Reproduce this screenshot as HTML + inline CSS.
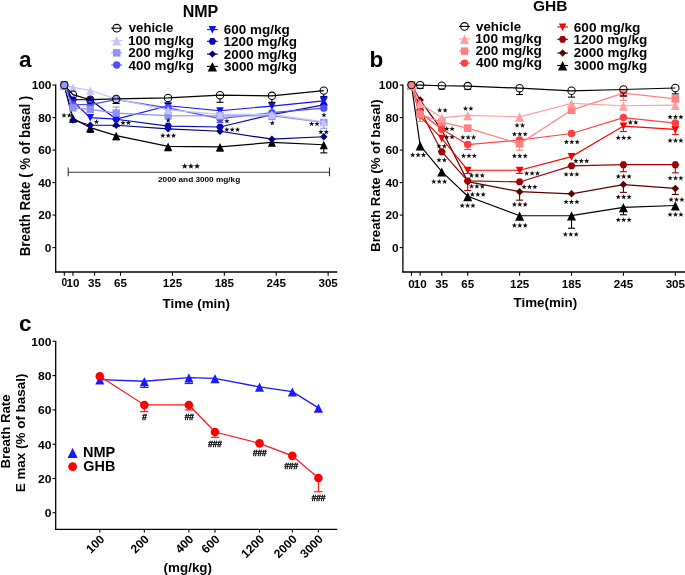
<!DOCTYPE html>
<html><head><meta charset="utf-8"><style>
html,body{margin:0;padding:0;background:#fff;width:685px;height:575px;overflow:hidden}
svg{display:block;will-change:transform}
</style></head><body>
<svg width="685" height="575" viewBox="0 0 685 575" style="font-family:'Liberation Sans',sans-serif;font-weight:bold">
<rect width="685" height="575" fill="#fff"/>
<line x1="55.7" y1="84.4" x2="55.7" y2="272.6" stroke="#000" stroke-width="1.3"/>
<line x1="55.050000000000004" y1="272" x2="337.4" y2="272" stroke="#000" stroke-width="1.3"/>
<line x1="52.5" y1="85.10" x2="55.7" y2="85.10" stroke="#000" stroke-width="1.1"/>
<text x="31.68" y="89.10" font-size="11.2" textLength="19.81" lengthAdjust="spacingAndGlyphs" >100</text>
<line x1="52.5" y1="117.60" x2="55.7" y2="117.60" stroke="#000" stroke-width="1.1"/>
<text x="38.28" y="121.60" font-size="11.2" textLength="13.21" lengthAdjust="spacingAndGlyphs" >80</text>
<line x1="52.5" y1="150.10" x2="55.7" y2="150.10" stroke="#000" stroke-width="1.1"/>
<text x="38.28" y="154.10" font-size="11.2" textLength="13.21" lengthAdjust="spacingAndGlyphs" >60</text>
<line x1="52.5" y1="182.60" x2="55.7" y2="182.60" stroke="#000" stroke-width="1.1"/>
<text x="38.28" y="186.60" font-size="11.2" textLength="13.21" lengthAdjust="spacingAndGlyphs" >40</text>
<line x1="52.5" y1="215.10" x2="55.7" y2="215.10" stroke="#000" stroke-width="1.1"/>
<text x="38.28" y="219.10" font-size="11.2" textLength="13.21" lengthAdjust="spacingAndGlyphs" >20</text>
<line x1="52.5" y1="247.60" x2="55.7" y2="247.60" stroke="#000" stroke-width="1.1"/>
<text x="44.88" y="251.60" font-size="11.2" textLength="6.60" lengthAdjust="spacingAndGlyphs" >0</text>
<line x1="64.30" y1="272" x2="64.30" y2="275.8" stroke="#000" stroke-width="1.1"/>
<text x="64.30" y="286.3" font-size="10.2" text-anchor="middle">0</text>
<line x1="72.95" y1="272" x2="72.95" y2="275.8" stroke="#000" stroke-width="1.1"/>
<text x="72.95" y="287.4" font-size="11.6" text-anchor="middle">10</text>
<line x1="94.57" y1="272" x2="94.57" y2="275.8" stroke="#000" stroke-width="1.1"/>
<text x="94.57" y="287.4" font-size="11.6" text-anchor="middle">35</text>
<line x1="120.53" y1="272" x2="120.53" y2="275.8" stroke="#000" stroke-width="1.1"/>
<text x="120.53" y="287.4" font-size="11.6" text-anchor="middle">65</text>
<line x1="172.43" y1="272" x2="172.43" y2="275.8" stroke="#000" stroke-width="1.1"/>
<text x="172.43" y="287.4" font-size="11.6" text-anchor="middle">125</text>
<line x1="224.32" y1="272" x2="224.32" y2="275.8" stroke="#000" stroke-width="1.1"/>
<text x="224.32" y="287.4" font-size="11.6" text-anchor="middle">185</text>
<line x1="276.23" y1="272" x2="276.23" y2="275.8" stroke="#000" stroke-width="1.1"/>
<text x="276.23" y="287.4" font-size="11.6" text-anchor="middle">245</text>
<line x1="328.12" y1="272" x2="328.12" y2="275.8" stroke="#000" stroke-width="1.1"/>
<text x="328.12" y="287.4" font-size="11.6" text-anchor="middle">305</text>
<text x="162.55" y="307.60" font-size="13.6" textLength="67.31" lengthAdjust="spacingAndGlyphs" >Time (min)</text>
<text transform="translate(29.90,256.29) rotate(-90)" x="0" y="0" font-size="14.0" textLength="160.55" lengthAdjust="spacingAndGlyphs" >Breath Rate ( % of basal )</text>
<text x="19.1" y="67.3" font-size="22.5">a</text>
<text x="200.5" y="16.9" font-size="16" text-anchor="middle">NMP</text>
<line x1="68.2" y1="172.2" x2="329.5" y2="172.2" stroke="#333" stroke-width="1.1"/>
<line x1="68.2" y1="167.5" x2="68.2" y2="176.3" stroke="#333" stroke-width="1.1"/>
<line x1="329.5" y1="167.5" x2="329.5" y2="176.3" stroke="#333" stroke-width="1.1"/>
<g fill="#111"><polygon points="184.70,163.01 185.49,165.13 187.74,165.23 185.98,166.63 186.58,168.80 184.70,167.56 182.82,168.80 183.42,166.63 181.66,165.23 183.91,165.13"/><polygon points="190.90,163.01 191.69,165.13 193.94,165.23 192.18,166.63 192.78,168.80 190.90,167.56 189.02,168.80 189.62,166.63 187.86,165.23 190.11,165.13"/><polygon points="197.10,163.01 197.89,165.13 200.14,165.23 198.38,166.63 198.98,168.80 197.10,167.56 195.22,168.80 195.82,166.63 194.06,165.23 196.31,165.13"/></g>
<text x="158.02" y="182.40" font-size="8.0" textLength="82.13" lengthAdjust="spacingAndGlyphs" >2000 and 3000 mg/kg</text>
<polyline points="64.30,85.10 72.95,118.25 90.25,127.67 116.20,135.64 168.10,146.36 220.00,146.85 271.90,142.46 323.80,144.74" fill="none" stroke="#000000" stroke-width="1.2"/>
<line x1="90.25" y1="127.67" x2="90.25" y2="132.39" stroke="#000000" stroke-width="1.1"/>
<line x1="86.75" y1="132.39" x2="93.75" y2="132.39" stroke="#000000" stroke-width="1.1"/>
<line x1="116.20" y1="135.64" x2="116.20" y2="139.86" stroke="#000000" stroke-width="1.1"/>
<line x1="112.70" y1="139.86" x2="119.70" y2="139.86" stroke="#000000" stroke-width="1.1"/>
<line x1="168.10" y1="146.36" x2="168.10" y2="150.75" stroke="#000000" stroke-width="1.1"/>
<line x1="164.60" y1="150.75" x2="171.60" y2="150.75" stroke="#000000" stroke-width="1.1"/>
<line x1="220.00" y1="146.85" x2="220.00" y2="151.07" stroke="#000000" stroke-width="1.1"/>
<line x1="216.50" y1="151.07" x2="223.50" y2="151.07" stroke="#000000" stroke-width="1.1"/>
<line x1="323.80" y1="144.74" x2="323.80" y2="152.86" stroke="#000000" stroke-width="1.1"/>
<line x1="320.30" y1="152.86" x2="327.30" y2="152.86" stroke="#000000" stroke-width="1.1"/>
<polygon points="64.30,81.19 68.37,89.51 60.23,89.51" fill="#000000"/>
<polygon points="72.95,114.34 77.02,122.66 68.88,122.66" fill="#000000"/>
<polygon points="90.25,123.76 94.32,132.09 86.18,132.09" fill="#000000"/>
<polygon points="116.20,131.72 120.27,140.05 112.13,140.05" fill="#000000"/>
<polygon points="168.10,142.45 172.17,150.77 164.03,150.77" fill="#000000"/>
<polygon points="220.00,142.94 224.07,151.26 215.93,151.26" fill="#000000"/>
<polygon points="271.90,138.55 275.97,146.87 267.83,146.87" fill="#000000"/>
<polygon points="323.80,140.82 327.87,149.15 319.73,149.15" fill="#000000"/>
<polyline points="64.30,85.10 72.95,120.04 90.25,125.24 116.20,125.24 168.10,128.81 220.00,131.25 271.90,139.21 323.80,136.77" fill="none" stroke="#000080" stroke-width="1.2"/>
<line x1="116.20" y1="125.24" x2="116.20" y2="126.54" stroke="#000080" stroke-width="1.1"/>
<line x1="112.70" y1="126.54" x2="119.70" y2="126.54" stroke="#000080" stroke-width="1.1"/>
<polygon points="64.30,81.40 68.00,85.10 64.30,88.80 60.60,85.10" fill="#000080"/>
<polygon points="72.95,116.34 76.65,120.04 72.95,123.74 69.25,120.04" fill="#000080"/>
<polygon points="90.25,121.54 93.95,125.24 90.25,128.94 86.55,125.24" fill="#000080"/>
<polygon points="116.20,121.54 119.90,125.24 116.20,128.94 112.50,125.24" fill="#000080"/>
<polygon points="168.10,125.11 171.80,128.81 168.10,132.51 164.40,128.81" fill="#000080"/>
<polygon points="220.00,127.55 223.70,131.25 220.00,134.95 216.30,131.25" fill="#000080"/>
<polygon points="271.90,135.51 275.60,139.21 271.90,142.91 268.20,139.21" fill="#000080"/>
<polygon points="323.80,133.07 327.50,136.77 323.80,140.47 320.10,136.77" fill="#000080"/>
<polyline points="64.30,85.10 72.95,99.72 90.25,99.72 116.20,119.22 168.10,126.05 220.00,127.02 271.90,114.67 323.80,104.92" fill="none" stroke="#0a0ab4" stroke-width="1.2"/>
<polygon points="60.41,85.10 62.36,81.77 66.24,81.77 68.19,85.10 66.24,88.43 62.36,88.43" fill="#0a0ab4"/>
<polygon points="69.06,99.72 71.01,96.39 74.89,96.39 76.84,99.72 74.89,103.05 71.01,103.05" fill="#0a0ab4"/>
<polygon points="86.36,99.72 88.31,96.39 92.19,96.39 94.14,99.72 92.19,103.05 88.31,103.05" fill="#0a0ab4"/>
<polygon points="112.31,119.22 114.26,115.89 118.14,115.89 120.08,119.22 118.14,122.55 114.26,122.55" fill="#0a0ab4"/>
<polygon points="164.22,126.05 166.16,122.72 170.04,122.72 171.98,126.05 170.04,129.38 166.16,129.38" fill="#0a0ab4"/>
<polygon points="216.12,127.02 218.06,123.69 221.94,123.69 223.88,127.02 221.94,130.35 218.06,130.35" fill="#0a0ab4"/>
<polygon points="268.01,114.67 269.96,111.34 273.84,111.34 275.78,114.67 273.84,118.00 269.96,118.00" fill="#0a0ab4"/>
<polygon points="319.92,104.92 321.86,101.59 325.74,101.59 327.69,104.92 325.74,108.25 321.86,108.25" fill="#0a0ab4"/>
<polyline points="64.30,85.10 72.95,101.35 90.25,117.60 116.20,119.06 168.10,105.74 220.00,110.77 271.90,106.06 323.80,100.86" fill="none" stroke="#1010ff" stroke-width="1.2"/>
<line x1="323.80" y1="100.86" x2="323.80" y2="96.47" stroke="#1010ff" stroke-width="1.1"/>
<line x1="320.30" y1="96.47" x2="327.30" y2="96.47" stroke="#1010ff" stroke-width="1.1"/>
<polygon points="64.30,89.02 68.09,81.62 60.51,81.62" fill="#1010ff"/>
<polygon points="72.95,105.27 76.74,97.87 69.16,97.87" fill="#1010ff"/>
<polygon points="90.25,121.52 94.04,114.12 86.46,114.12" fill="#1010ff"/>
<polygon points="116.20,122.98 119.99,115.58 112.41,115.58" fill="#1010ff"/>
<polygon points="168.10,109.66 171.89,102.26 164.31,102.26" fill="#1010ff"/>
<polygon points="220.00,114.70 223.79,107.30 216.21,107.30" fill="#1010ff"/>
<polygon points="271.90,109.98 275.69,102.58 268.11,102.58" fill="#1010ff"/>
<polygon points="323.80,104.78 327.59,97.38 320.01,97.38" fill="#1010ff"/>
<polyline points="64.30,85.10 72.95,104.60 90.25,104.60 116.20,99.72 168.10,107.85 220.00,118.57 271.90,112.72 323.80,108.17" fill="none" stroke="#5050f5" stroke-width="1.2"/>
<line x1="220.00" y1="118.57" x2="220.00" y2="122.47" stroke="#5050f5" stroke-width="1.1"/>
<line x1="216.50" y1="122.47" x2="223.50" y2="122.47" stroke="#5050f5" stroke-width="1.1"/>
<circle cx="64.30" cy="85.10" r="3.70" fill="#5050f5"/>
<circle cx="72.95" cy="104.60" r="3.70" fill="#5050f5"/>
<circle cx="90.25" cy="104.60" r="3.70" fill="#5050f5"/>
<circle cx="116.20" cy="99.72" r="3.70" fill="#5050f5"/>
<circle cx="168.10" cy="107.85" r="3.70" fill="#5050f5"/>
<circle cx="220.00" cy="118.57" r="3.70" fill="#5050f5"/>
<circle cx="271.90" cy="112.72" r="3.70" fill="#5050f5"/>
<circle cx="323.80" cy="108.17" r="3.70" fill="#5050f5"/>
<polyline points="64.30,85.10 72.95,107.85 90.25,109.47 116.20,113.05 168.10,115.65 220.00,115.97 271.90,115.97 323.80,122.47" fill="none" stroke="#9090f5" stroke-width="1.2"/>
<line x1="323.80" y1="122.47" x2="323.80" y2="128.32" stroke="#9090f5" stroke-width="1.1"/>
<line x1="320.30" y1="128.32" x2="327.30" y2="128.32" stroke="#9090f5" stroke-width="1.1"/>
<line x1="271.90" y1="115.97" x2="271.90" y2="119.55" stroke="#9090f5" stroke-width="1.1"/>
<line x1="268.40" y1="119.55" x2="275.40" y2="119.55" stroke="#9090f5" stroke-width="1.1"/>
<line x1="116.20" y1="113.05" x2="116.20" y2="107.04" stroke="#9090f5" stroke-width="1.1"/>
<line x1="112.70" y1="107.04" x2="119.70" y2="107.04" stroke="#9090f5" stroke-width="1.1"/>
<rect x="60.60" y="81.40" width="7.40" height="7.40" fill="#9090f5"/>
<rect x="69.25" y="104.15" width="7.40" height="7.40" fill="#9090f5"/>
<rect x="86.55" y="105.77" width="7.40" height="7.40" fill="#9090f5"/>
<rect x="112.50" y="109.35" width="7.40" height="7.40" fill="#9090f5"/>
<rect x="164.40" y="111.95" width="7.40" height="7.40" fill="#9090f5"/>
<rect x="216.30" y="112.27" width="7.40" height="7.40" fill="#9090f5"/>
<rect x="268.20" y="112.27" width="7.40" height="7.40" fill="#9090f5"/>
<rect x="320.10" y="118.77" width="7.40" height="7.40" fill="#9090f5"/>
<polyline points="64.30,85.10 72.95,87.38 90.25,90.30 116.20,99.07 168.10,109.96 220.00,114.35 271.90,114.35 323.80,121.82" fill="none" stroke="#c4c4fa" stroke-width="1.2"/>
<polygon points="64.30,81.19 68.37,89.51 60.23,89.51" fill="#c4c4fa"/>
<polygon points="72.95,83.46 77.02,91.79 68.88,91.79" fill="#c4c4fa"/>
<polygon points="90.25,86.39 94.32,94.71 86.18,94.71" fill="#c4c4fa"/>
<polygon points="116.20,95.16 120.27,103.49 112.13,103.49" fill="#c4c4fa"/>
<polygon points="168.10,106.05 172.17,114.37 164.03,114.37" fill="#c4c4fa"/>
<polygon points="220.00,110.44 224.07,118.76 215.93,118.76" fill="#c4c4fa"/>
<polygon points="271.90,110.44 275.97,118.76 267.83,118.76" fill="#c4c4fa"/>
<polygon points="323.80,117.91 327.87,126.24 319.73,126.24" fill="#c4c4fa"/>
<polyline points="64.30,85.10 72.95,94.69 90.25,99.72 116.20,98.91 168.10,97.94 220.00,95.17 271.90,95.82 323.80,90.62" fill="none" stroke="#000000" stroke-width="1.2"/>
<line x1="116.20" y1="102.61" x2="116.20" y2="103.46" stroke="#000000" stroke-width="1.1"/>
<line x1="112.70" y1="103.46" x2="119.70" y2="103.46" stroke="#000000" stroke-width="1.1"/>
<line x1="168.10" y1="101.64" x2="168.10" y2="103.46" stroke="#000000" stroke-width="1.1"/>
<line x1="164.60" y1="103.46" x2="171.60" y2="103.46" stroke="#000000" stroke-width="1.1"/>
<line x1="220.00" y1="98.88" x2="220.00" y2="102.32" stroke="#000000" stroke-width="1.1"/>
<line x1="216.50" y1="102.32" x2="223.50" y2="102.32" stroke="#000000" stroke-width="1.1"/>
<line x1="271.90" y1="99.52" x2="271.90" y2="102.32" stroke="#000000" stroke-width="1.1"/>
<line x1="268.40" y1="102.32" x2="275.40" y2="102.32" stroke="#000000" stroke-width="1.1"/>
<line x1="323.80" y1="94.33" x2="323.80" y2="97.12" stroke="#000000" stroke-width="1.1"/>
<line x1="320.30" y1="97.12" x2="327.30" y2="97.12" stroke="#000000" stroke-width="1.1"/>
<circle cx="72.95" cy="94.69" r="3.7" fill="none" stroke="#000" stroke-width="1.05"/>
<circle cx="90.25" cy="99.72" r="3.7" fill="none" stroke="#000" stroke-width="1.05"/>
<circle cx="116.20" cy="98.91" r="3.7" fill="none" stroke="#000" stroke-width="1.05"/>
<circle cx="168.10" cy="97.94" r="3.7" fill="none" stroke="#000" stroke-width="1.05"/>
<circle cx="220.00" cy="95.17" r="3.7" fill="none" stroke="#000" stroke-width="1.05"/>
<circle cx="271.90" cy="95.82" r="3.7" fill="none" stroke="#000" stroke-width="1.05"/>
<circle cx="323.80" cy="90.62" r="3.7" fill="none" stroke="#000" stroke-width="1.05"/>
<circle cx="64.30" cy="85.10" r="3.7" fill="#9a9af5" stroke="#000" stroke-width="1.05"/>
<g fill="#111"><polygon points="64.00,112.66 64.68,114.48 66.62,114.56 65.10,115.77 65.62,117.64 64.00,116.57 62.38,117.64 62.90,115.77 61.38,114.56 63.32,114.48"/><polygon points="69.40,112.66 70.08,114.48 72.02,114.56 70.50,115.77 71.02,117.64 69.40,116.57 67.78,117.64 68.30,115.77 66.78,114.56 68.72,114.48"/></g>
<g fill="#111"><polygon points="96.50,119.06 97.18,120.88 99.12,120.96 97.60,122.17 98.12,124.04 96.50,122.97 94.88,124.04 95.40,122.17 93.88,120.96 95.82,120.88"/></g>
<g fill="#111"><polygon points="123.00,120.06 123.68,121.88 125.62,121.96 124.10,123.17 124.62,125.04 123.00,123.97 121.38,125.04 121.90,123.17 120.38,121.96 122.32,121.88"/><polygon points="128.40,120.06 129.08,121.88 131.02,121.96 129.50,123.17 130.02,125.04 128.40,123.97 126.78,125.04 127.30,123.17 125.78,121.96 127.72,121.88"/></g>
<g fill="#111"><polygon points="168.20,117.66 168.88,119.48 170.82,119.56 169.30,120.77 169.82,122.64 168.20,121.57 166.58,122.64 167.10,120.77 165.58,119.56 167.52,119.48"/></g>
<g fill="#111"><polygon points="162.80,132.96 163.48,134.78 165.42,134.86 163.90,136.07 164.42,137.94 162.80,136.87 161.18,137.94 161.70,136.07 160.18,134.86 162.12,134.78"/><polygon points="168.20,132.96 168.88,134.78 170.82,134.86 169.30,136.07 169.82,137.94 168.20,136.87 166.58,137.94 167.10,136.07 165.58,134.86 167.52,134.78"/><polygon points="173.60,132.96 174.28,134.78 176.22,134.86 174.70,136.07 175.22,137.94 173.60,136.87 171.98,137.94 172.50,136.07 170.98,134.86 172.92,134.78"/></g>
<g fill="#111"><polygon points="226.90,118.36 227.58,120.18 229.52,120.26 228.00,121.47 228.52,123.34 226.90,122.27 225.28,123.34 225.80,121.47 224.28,120.26 226.22,120.18"/></g>
<g fill="#111"><polygon points="226.80,126.96 227.48,128.78 229.42,128.86 227.90,130.07 228.42,131.94 226.80,130.87 225.18,131.94 225.70,130.07 224.18,128.86 226.12,128.78"/><polygon points="232.20,126.96 232.88,128.78 234.82,128.86 233.30,130.07 233.82,131.94 232.20,130.87 230.58,131.94 231.10,130.07 229.58,128.86 231.52,128.78"/><polygon points="237.60,126.96 238.28,128.78 240.22,128.86 238.70,130.07 239.22,131.94 237.60,130.87 235.98,131.94 236.50,130.07 234.98,128.86 236.92,128.78"/></g>
<g fill="#111"><polygon points="272.30,120.36 272.98,122.18 274.92,122.26 273.40,123.47 273.92,125.34 272.30,124.27 270.68,125.34 271.20,123.47 269.68,122.26 271.62,122.18"/></g>
<g fill="#111"><polygon points="324.00,112.36 324.68,114.18 326.62,114.26 325.10,115.47 325.62,117.34 324.00,116.27 322.38,117.34 322.90,115.47 321.38,114.26 323.32,114.18"/></g>
<g fill="#111"><polygon points="311.60,121.16 312.28,122.98 314.22,123.06 312.70,124.27 313.22,126.14 311.60,125.07 309.98,126.14 310.50,124.27 308.98,123.06 310.92,122.98"/><polygon points="317.00,121.16 317.68,122.98 319.62,123.06 318.10,124.27 318.62,126.14 317.00,125.07 315.38,126.14 315.90,124.27 314.38,123.06 316.32,122.98"/></g>
<g fill="#111"><polygon points="320.90,129.26 321.58,131.08 323.52,131.16 322.00,132.37 322.52,134.24 320.90,133.17 319.28,134.24 319.80,132.37 318.28,131.16 320.22,131.08"/><polygon points="326.30,129.26 326.98,131.08 328.92,131.16 327.40,132.37 327.92,134.24 326.30,133.17 324.68,134.24 325.20,132.37 323.68,131.16 325.62,131.08"/></g>
<line x1="111.30" y1="28.20" x2="122.10" y2="28.20" stroke="#000" stroke-width="1.1"/>
<circle cx="116.70" cy="28.20" r="3.8" fill="none" stroke="#000" stroke-width="1.1"/>
<text x="128.75" y="31.70" font-size="12.6" textLength="44.70" lengthAdjust="spacingAndGlyphs" >vehicle</text>
<line x1="111.30" y1="40.60" x2="122.10" y2="40.60" stroke="#c4c4fa" stroke-width="1.1"/>
<polygon points="116.70,36.16 121.32,45.61 112.08,45.61" fill="#c4c4fa"/>
<text x="127.95" y="44.50" font-size="12.6" textLength="65.95" lengthAdjust="spacingAndGlyphs" >100 mg/kg</text>
<line x1="111.30" y1="52.90" x2="122.10" y2="52.90" stroke="#9090f5" stroke-width="1.1"/>
<rect x="113.00" y="49.20" width="7.40" height="7.40" fill="#9090f5"/>
<text x="128.34" y="57.10" font-size="12.6" textLength="65.56" lengthAdjust="spacingAndGlyphs" >200 mg/kg</text>
<line x1="111.30" y1="65.00" x2="122.10" y2="65.00" stroke="#5050f5" stroke-width="1.1"/>
<circle cx="116.70" cy="65.00" r="3.70" fill="#5050f5"/>
<text x="128.60" y="69.50" font-size="12.6" textLength="65.30" lengthAdjust="spacingAndGlyphs" >400 mg/kg</text>
<line x1="207.00" y1="29.60" x2="217.80" y2="29.60" stroke="#1010ff" stroke-width="1.1"/>
<polygon points="212.40,33.52 216.19,26.12 208.61,26.12" fill="#1010ff"/>
<text x="223.81" y="34.00" font-size="12.6" textLength="65.89" lengthAdjust="spacingAndGlyphs" >600 mg/kg</text>
<line x1="207.00" y1="41.30" x2="217.80" y2="41.30" stroke="#0a0ab4" stroke-width="1.1"/>
<polygon points="208.52,41.30 210.46,37.97 214.34,37.97 216.28,41.30 214.34,44.63 210.46,44.63" fill="#0a0ab4"/>
<text x="223.45" y="45.90" font-size="12.6" textLength="73.55" lengthAdjust="spacingAndGlyphs" >1200 mg/kg</text>
<line x1="207.00" y1="54.10" x2="217.80" y2="54.10" stroke="#000080" stroke-width="1.1"/>
<polygon points="212.40,50.40 216.10,54.10 212.40,57.80 208.70,54.10" fill="#000080"/>
<text x="223.83" y="58.60" font-size="12.6" textLength="73.16" lengthAdjust="spacingAndGlyphs" >2000 mg/kg</text>
<line x1="207.00" y1="66.40" x2="217.80" y2="66.40" stroke="#000" stroke-width="1.1"/>
<polygon points="212.40,61.96 217.02,71.41 207.78,71.41" fill="#000"/>
<text x="223.99" y="70.50" font-size="12.6" textLength="73.00" lengthAdjust="spacingAndGlyphs" >3000 mg/kg</text>
<line x1="402.9" y1="84.4" x2="402.9" y2="272.6" stroke="#000" stroke-width="1.3"/>
<line x1="402.25" y1="272" x2="685" y2="272" stroke="#000" stroke-width="1.3"/>
<line x1="399.7" y1="85.10" x2="402.9" y2="85.10" stroke="#000" stroke-width="1.1"/>
<text x="378.88" y="89.10" font-size="11.2" textLength="19.81" lengthAdjust="spacingAndGlyphs" >100</text>
<line x1="399.7" y1="117.60" x2="402.9" y2="117.60" stroke="#000" stroke-width="1.1"/>
<text x="385.48" y="121.60" font-size="11.2" textLength="13.21" lengthAdjust="spacingAndGlyphs" >80</text>
<line x1="399.7" y1="150.10" x2="402.9" y2="150.10" stroke="#000" stroke-width="1.1"/>
<text x="385.48" y="154.10" font-size="11.2" textLength="13.21" lengthAdjust="spacingAndGlyphs" >60</text>
<line x1="399.7" y1="182.60" x2="402.9" y2="182.60" stroke="#000" stroke-width="1.1"/>
<text x="385.48" y="186.60" font-size="11.2" textLength="13.21" lengthAdjust="spacingAndGlyphs" >40</text>
<line x1="399.7" y1="215.10" x2="402.9" y2="215.10" stroke="#000" stroke-width="1.1"/>
<text x="385.48" y="219.10" font-size="11.2" textLength="13.21" lengthAdjust="spacingAndGlyphs" >20</text>
<line x1="399.7" y1="247.60" x2="402.9" y2="247.60" stroke="#000" stroke-width="1.1"/>
<text x="392.08" y="251.60" font-size="11.2" textLength="6.60" lengthAdjust="spacingAndGlyphs" >0</text>
<line x1="411.50" y1="272" x2="411.50" y2="275.8" stroke="#000" stroke-width="1.1"/>
<text x="411.50" y="287.6" font-size="11.6" text-anchor="middle">0</text>
<line x1="420.15" y1="272" x2="420.15" y2="275.8" stroke="#000" stroke-width="1.1"/>
<text x="420.15" y="287.6" font-size="11.6" text-anchor="middle">10</text>
<line x1="441.77" y1="272" x2="441.77" y2="275.8" stroke="#000" stroke-width="1.1"/>
<text x="441.77" y="287.6" font-size="11.6" text-anchor="middle">35</text>
<line x1="467.73" y1="272" x2="467.73" y2="275.8" stroke="#000" stroke-width="1.1"/>
<text x="467.73" y="287.6" font-size="11.6" text-anchor="middle">65</text>
<line x1="519.62" y1="272" x2="519.62" y2="275.8" stroke="#000" stroke-width="1.1"/>
<text x="519.62" y="287.6" font-size="11.6" text-anchor="middle">125</text>
<line x1="571.52" y1="272" x2="571.52" y2="275.8" stroke="#000" stroke-width="1.1"/>
<text x="571.52" y="287.6" font-size="11.6" text-anchor="middle">185</text>
<line x1="623.42" y1="272" x2="623.42" y2="275.8" stroke="#000" stroke-width="1.1"/>
<text x="623.42" y="287.6" font-size="11.6" text-anchor="middle">245</text>
<line x1="675.33" y1="272" x2="675.33" y2="275.8" stroke="#000" stroke-width="1.1"/>
<text x="675.33" y="287.6" font-size="11.6" text-anchor="middle">305</text>
<text x="513.55" y="307.10" font-size="13.6" textLength="63.61" lengthAdjust="spacingAndGlyphs" >Time(min)</text>
<text transform="translate(379.90,251.89) rotate(-90)" x="0" y="0" font-size="13.6" textLength="152.55" lengthAdjust="spacingAndGlyphs" >Breath Rate (% of basal)</text>
<text x="369.6" y="67.0" font-size="22.5">b</text>
<text x="550.3" y="11.2" font-size="15.5" text-anchor="middle">GHB</text>
<polyline points="411.50,85.10 420.15,145.55 441.77,171.71 467.73,196.25 519.62,215.75 571.52,215.59 623.42,207.30 675.33,205.51" fill="none" stroke="#000000" stroke-width="1.2"/>
<line x1="571.52" y1="215.59" x2="571.52" y2="228.26" stroke="#000000" stroke-width="1.1"/>
<line x1="568.02" y1="228.26" x2="575.02" y2="228.26" stroke="#000000" stroke-width="1.1"/>
<line x1="623.42" y1="207.30" x2="623.42" y2="214.77" stroke="#000000" stroke-width="1.1"/>
<line x1="619.92" y1="214.77" x2="626.92" y2="214.77" stroke="#000000" stroke-width="1.1"/>
<line x1="441.77" y1="171.71" x2="441.77" y2="174.96" stroke="#000000" stroke-width="1.1"/>
<line x1="438.27" y1="174.96" x2="445.27" y2="174.96" stroke="#000000" stroke-width="1.1"/>
<polygon points="411.50,80.76 416.01,89.99 406.99,89.99" fill="#000000"/>
<polygon points="420.15,141.21 424.66,150.44 415.64,150.44" fill="#000000"/>
<polygon points="441.77,167.38 446.28,176.60 437.26,176.60" fill="#000000"/>
<polygon points="467.73,191.91 472.24,201.14 463.22,201.14" fill="#000000"/>
<polygon points="519.62,211.41 524.13,220.64 515.12,220.64" fill="#000000"/>
<polygon points="571.52,211.25 576.03,220.48 567.01,220.48" fill="#000000"/>
<polygon points="623.42,202.96 627.93,212.19 618.91,212.19" fill="#000000"/>
<polygon points="675.33,201.18 679.84,210.40 670.82,210.40" fill="#000000"/>
<polyline points="411.50,85.10 420.15,100.05 441.77,129.79 467.73,181.62 519.62,191.70 571.52,193.81 623.42,184.55 675.33,188.45" fill="none" stroke="#5a0000" stroke-width="1.2"/>
<line x1="519.62" y1="191.70" x2="519.62" y2="200.15" stroke="#5a0000" stroke-width="1.1"/>
<line x1="516.12" y1="200.15" x2="523.12" y2="200.15" stroke="#5a0000" stroke-width="1.1"/>
<line x1="623.42" y1="184.55" x2="623.42" y2="192.35" stroke="#5a0000" stroke-width="1.1"/>
<line x1="619.92" y1="192.35" x2="626.92" y2="192.35" stroke="#5a0000" stroke-width="1.1"/>
<line x1="675.33" y1="188.45" x2="675.33" y2="194.46" stroke="#5a0000" stroke-width="1.1"/>
<line x1="671.83" y1="194.46" x2="678.83" y2="194.46" stroke="#5a0000" stroke-width="1.1"/>
<polygon points="411.50,81.30 415.30,85.10 411.50,88.90 407.70,85.10" fill="#5a0000"/>
<polygon points="420.15,96.25 423.95,100.05 420.15,103.85 416.35,100.05" fill="#5a0000"/>
<polygon points="441.77,125.99 445.57,129.79 441.77,133.59 437.97,129.79" fill="#5a0000"/>
<polygon points="467.73,177.82 471.53,181.62 467.73,185.43 463.93,181.62" fill="#5a0000"/>
<polygon points="519.62,187.90 523.42,191.70 519.62,195.50 515.83,191.70" fill="#5a0000"/>
<polygon points="571.52,190.01 575.32,193.81 571.52,197.61 567.73,193.81" fill="#5a0000"/>
<polygon points="623.42,180.75 627.22,184.55 623.42,188.35 619.62,184.55" fill="#5a0000"/>
<polygon points="675.33,184.65 679.12,188.45 675.33,192.25 671.53,188.45" fill="#5a0000"/>
<polyline points="411.50,85.10 420.15,110.12 441.77,151.72 467.73,180.81 519.62,181.95 571.52,165.86 623.42,164.72 675.33,164.72" fill="none" stroke="#a00000" stroke-width="1.2"/>
<line x1="467.73" y1="180.81" x2="467.73" y2="190.56" stroke="#a00000" stroke-width="1.1"/>
<line x1="464.23" y1="190.56" x2="471.23" y2="190.56" stroke="#a00000" stroke-width="1.1"/>
<line x1="623.42" y1="164.72" x2="623.42" y2="171.71" stroke="#a00000" stroke-width="1.1"/>
<line x1="619.92" y1="171.71" x2="626.92" y2="171.71" stroke="#a00000" stroke-width="1.1"/>
<line x1="675.33" y1="164.72" x2="675.33" y2="172.85" stroke="#a00000" stroke-width="1.1"/>
<line x1="671.83" y1="172.85" x2="678.83" y2="172.85" stroke="#a00000" stroke-width="1.1"/>
<polygon points="407.51,85.10 409.50,81.68 413.50,81.68 415.49,85.10 413.50,88.52 409.50,88.52" fill="#a00000"/>
<polygon points="416.16,110.12 418.15,106.70 422.14,106.70 424.14,110.12 422.14,113.55 418.15,113.55" fill="#a00000"/>
<polygon points="437.78,151.72 439.78,148.31 443.77,148.31 445.76,151.72 443.77,155.14 439.78,155.14" fill="#a00000"/>
<polygon points="463.74,180.81 465.73,177.39 469.72,177.39 471.72,180.81 469.72,184.23 465.73,184.23" fill="#a00000"/>
<polygon points="515.63,181.95 517.63,178.53 521.62,178.53 523.62,181.95 521.62,185.37 517.63,185.37" fill="#a00000"/>
<polygon points="567.53,165.86 569.53,162.44 573.52,162.44 575.51,165.86 573.52,169.28 569.53,169.28" fill="#a00000"/>
<polygon points="619.43,164.72 621.43,161.31 625.42,161.31 627.41,164.72 625.42,168.14 621.43,168.14" fill="#a00000"/>
<polygon points="671.34,164.72 673.33,161.31 677.32,161.31 679.32,164.72 677.32,168.14 673.33,168.14" fill="#a00000"/>
<polyline points="411.50,85.10 420.15,116.79 441.77,138.40 467.73,170.25 519.62,170.25 571.52,156.60 623.42,126.05 675.33,129.46" fill="none" stroke="#ff0000" stroke-width="1.2"/>
<line x1="623.42" y1="126.05" x2="623.42" y2="131.57" stroke="#ff0000" stroke-width="1.1"/>
<line x1="619.92" y1="131.57" x2="626.92" y2="131.57" stroke="#ff0000" stroke-width="1.1"/>
<line x1="675.33" y1="129.46" x2="675.33" y2="134.34" stroke="#ff0000" stroke-width="1.1"/>
<line x1="671.83" y1="134.34" x2="678.83" y2="134.34" stroke="#ff0000" stroke-width="1.1"/>
<line x1="519.62" y1="170.25" x2="519.62" y2="173.50" stroke="#ff0000" stroke-width="1.1"/>
<line x1="516.12" y1="173.50" x2="523.12" y2="173.50" stroke="#ff0000" stroke-width="1.1"/>
<line x1="467.73" y1="170.25" x2="467.73" y2="173.50" stroke="#ff0000" stroke-width="1.1"/>
<line x1="464.23" y1="173.50" x2="471.23" y2="173.50" stroke="#ff0000" stroke-width="1.1"/>
<polygon points="411.50,89.13 415.39,81.53 407.61,81.53" fill="#ff0000"/>
<polygon points="420.15,120.82 424.04,113.22 416.25,113.22" fill="#ff0000"/>
<polygon points="441.77,142.43 445.67,134.83 437.88,134.83" fill="#ff0000"/>
<polygon points="467.73,174.28 471.62,166.68 463.83,166.68" fill="#ff0000"/>
<polygon points="519.62,174.28 523.52,166.68 515.73,166.68" fill="#ff0000"/>
<polygon points="571.52,160.63 575.42,153.03 567.63,153.03" fill="#ff0000"/>
<polygon points="623.42,130.08 627.32,122.48 619.53,122.48" fill="#ff0000"/>
<polygon points="675.33,133.49 679.22,125.89 671.43,125.89" fill="#ff0000"/>
<polyline points="411.50,85.10 420.15,112.56 441.77,129.14 467.73,144.57 519.62,140.02 571.52,133.52 623.42,117.60 675.33,123.12" fill="none" stroke="#ff4040" stroke-width="1.2"/>
<line x1="467.73" y1="144.57" x2="467.73" y2="149.45" stroke="#ff4040" stroke-width="1.1"/>
<line x1="464.23" y1="149.45" x2="471.23" y2="149.45" stroke="#ff4040" stroke-width="1.1"/>
<line x1="519.62" y1="140.02" x2="519.62" y2="144.25" stroke="#ff4040" stroke-width="1.1"/>
<line x1="516.12" y1="144.25" x2="523.12" y2="144.25" stroke="#ff4040" stroke-width="1.1"/>
<circle cx="411.50" cy="85.10" r="3.80" fill="#ff4040"/>
<circle cx="420.15" cy="112.56" r="3.80" fill="#ff4040"/>
<circle cx="441.77" cy="129.14" r="3.80" fill="#ff4040"/>
<circle cx="467.73" cy="144.57" r="3.80" fill="#ff4040"/>
<circle cx="519.62" cy="140.02" r="3.80" fill="#ff4040"/>
<circle cx="571.52" cy="133.52" r="3.80" fill="#ff4040"/>
<circle cx="623.42" cy="117.60" r="3.80" fill="#ff4040"/>
<circle cx="675.33" cy="123.12" r="3.80" fill="#ff4040"/>
<polyline points="411.50,85.10 420.15,114.51 441.77,122.15 467.73,128.16 519.62,143.76 571.52,110.12 623.42,93.22 675.33,98.91" fill="none" stroke="#ff8080" stroke-width="1.2"/>
<line x1="519.62" y1="143.76" x2="519.62" y2="150.26" stroke="#ff8080" stroke-width="1.1"/>
<line x1="516.12" y1="150.26" x2="523.12" y2="150.26" stroke="#ff8080" stroke-width="1.1"/>
<line x1="623.42" y1="93.22" x2="623.42" y2="100.38" stroke="#ff8080" stroke-width="1.1"/>
<line x1="619.92" y1="100.38" x2="626.92" y2="100.38" stroke="#ff8080" stroke-width="1.1"/>
<line x1="420.15" y1="114.51" x2="420.15" y2="121.50" stroke="#ff8080" stroke-width="1.1"/>
<line x1="416.65" y1="121.50" x2="423.65" y2="121.50" stroke="#ff8080" stroke-width="1.1"/>
<rect x="407.70" y="81.30" width="7.60" height="7.60" fill="#ff8080"/>
<rect x="416.35" y="110.71" width="7.60" height="7.60" fill="#ff8080"/>
<rect x="437.97" y="118.35" width="7.60" height="7.60" fill="#ff8080"/>
<rect x="463.93" y="124.36" width="7.60" height="7.60" fill="#ff8080"/>
<rect x="515.83" y="139.96" width="7.60" height="7.60" fill="#ff8080"/>
<rect x="567.73" y="106.33" width="7.60" height="7.60" fill="#ff8080"/>
<rect x="619.62" y="89.42" width="7.60" height="7.60" fill="#ff8080"/>
<rect x="671.53" y="95.11" width="7.60" height="7.60" fill="#ff8080"/>
<polyline points="411.50,85.10 420.15,103.30 441.77,117.76 467.73,115.32 519.62,116.79 571.52,103.46 623.42,105.74 675.33,105.09" fill="none" stroke="#ffa0a0" stroke-width="1.2"/>
<polygon points="411.50,80.76 416.01,89.99 406.99,89.99" fill="#ffa0a0"/>
<polygon points="420.15,98.96 424.66,108.19 415.64,108.19" fill="#ffa0a0"/>
<polygon points="441.77,113.43 446.28,122.65 437.26,122.65" fill="#ffa0a0"/>
<polygon points="467.73,110.99 472.24,120.21 463.22,120.21" fill="#ffa0a0"/>
<polygon points="519.62,112.45 524.13,121.68 515.12,121.68" fill="#ffa0a0"/>
<polygon points="571.52,99.13 576.03,108.35 567.01,108.35" fill="#ffa0a0"/>
<polygon points="623.42,101.40 627.93,110.63 618.91,110.63" fill="#ffa0a0"/>
<polygon points="675.33,100.75 679.84,109.98 670.82,109.98" fill="#ffa0a0"/>
<polyline points="411.50,85.10 420.15,85.10 441.77,85.75 467.73,86.07 519.62,88.19 571.52,90.79 623.42,89.49 675.33,88.02" fill="none" stroke="#000000" stroke-width="1.2"/>
<line x1="420.15" y1="88.80" x2="420.15" y2="88.35" stroke="#000000" stroke-width="1.1"/>
<line x1="416.65" y1="88.35" x2="423.65" y2="88.35" stroke="#000000" stroke-width="1.1"/>
<line x1="441.77" y1="89.45" x2="441.77" y2="89.00" stroke="#000000" stroke-width="1.1"/>
<line x1="438.27" y1="89.00" x2="445.27" y2="89.00" stroke="#000000" stroke-width="1.1"/>
<line x1="467.73" y1="89.77" x2="467.73" y2="89.32" stroke="#000000" stroke-width="1.1"/>
<line x1="464.23" y1="89.32" x2="471.23" y2="89.32" stroke="#000000" stroke-width="1.1"/>
<line x1="519.62" y1="91.89" x2="519.62" y2="94.52" stroke="#000000" stroke-width="1.1"/>
<line x1="516.12" y1="94.52" x2="523.12" y2="94.52" stroke="#000000" stroke-width="1.1"/>
<line x1="571.52" y1="94.49" x2="571.52" y2="97.12" stroke="#000000" stroke-width="1.1"/>
<line x1="568.02" y1="97.12" x2="575.02" y2="97.12" stroke="#000000" stroke-width="1.1"/>
<line x1="623.42" y1="93.19" x2="623.42" y2="95.99" stroke="#000000" stroke-width="1.1"/>
<line x1="619.92" y1="95.99" x2="626.92" y2="95.99" stroke="#000000" stroke-width="1.1"/>
<line x1="675.33" y1="91.72" x2="675.33" y2="93.88" stroke="#000000" stroke-width="1.1"/>
<line x1="671.83" y1="93.88" x2="678.83" y2="93.88" stroke="#000000" stroke-width="1.1"/>
<circle cx="420.15" cy="85.10" r="3.7" fill="none" stroke="#000" stroke-width="1.05"/>
<circle cx="441.77" cy="85.75" r="3.7" fill="none" stroke="#000" stroke-width="1.05"/>
<circle cx="467.73" cy="86.07" r="3.7" fill="none" stroke="#000" stroke-width="1.05"/>
<circle cx="519.62" cy="88.19" r="3.7" fill="none" stroke="#000" stroke-width="1.05"/>
<circle cx="571.52" cy="90.79" r="3.7" fill="none" stroke="#000" stroke-width="1.05"/>
<circle cx="623.42" cy="89.49" r="3.7" fill="none" stroke="#000" stroke-width="1.05"/>
<circle cx="675.33" cy="88.02" r="3.7" fill="none" stroke="#000" stroke-width="1.05"/>
<circle cx="411.50" cy="85.10" r="3.7" fill="#ff8080" stroke="#000" stroke-width="1.05"/>
<g fill="#111"><polygon points="412.70,152.26 413.38,154.08 415.32,154.16 413.80,155.37 414.32,157.24 412.70,156.17 411.08,157.24 411.60,155.37 410.08,154.16 412.02,154.08"/><polygon points="418.10,152.26 418.78,154.08 420.72,154.16 419.20,155.37 419.72,157.24 418.10,156.17 416.48,157.24 417.00,155.37 415.48,154.16 417.42,154.08"/><polygon points="423.50,152.26 424.18,154.08 426.12,154.16 424.60,155.37 425.12,157.24 423.50,156.17 421.88,157.24 422.40,155.37 420.88,154.16 422.82,154.08"/></g>
<g fill="#111"><polygon points="439.70,107.56 440.38,109.38 442.32,109.46 440.80,110.67 441.32,112.54 439.70,111.47 438.08,112.54 438.60,110.67 437.08,109.46 439.02,109.38"/><polygon points="445.10,107.56 445.78,109.38 447.72,109.46 446.20,110.67 446.72,112.54 445.10,111.47 443.48,112.54 444.00,110.67 442.48,109.46 444.42,109.38"/></g>
<g fill="#111"><polygon points="446.70,126.06 447.38,127.88 449.32,127.96 447.80,129.17 448.32,131.04 446.70,129.97 445.08,131.04 445.60,129.17 444.08,127.96 446.02,127.88"/><polygon points="452.10,126.06 452.78,127.88 454.72,127.96 453.20,129.17 453.72,131.04 452.10,129.97 450.48,131.04 451.00,129.17 449.48,127.96 451.42,127.88"/></g>
<g fill="#111"><polygon points="446.70,134.36 447.38,136.18 449.32,136.26 447.80,137.47 448.32,139.34 446.70,138.27 445.08,139.34 445.60,137.47 444.08,136.26 446.02,136.18"/><polygon points="452.10,134.36 452.78,136.18 454.72,136.26 453.20,137.47 453.72,139.34 452.10,138.27 450.48,139.34 451.00,137.47 449.48,136.26 451.42,136.18"/></g>
<g fill="#111"><polygon points="439.00,143.46 439.68,145.28 441.62,145.36 440.10,146.57 440.62,148.44 439.00,147.37 437.38,148.44 437.90,146.57 436.38,145.36 438.32,145.28"/><polygon points="444.40,143.46 445.08,145.28 447.02,145.36 445.50,146.57 446.02,148.44 444.40,147.37 442.78,148.44 443.30,146.57 441.78,145.36 443.72,145.28"/></g>
<g fill="#111"><polygon points="439.00,157.46 439.68,159.28 441.62,159.36 440.10,160.57 440.62,162.44 439.00,161.37 437.38,162.44 437.90,160.57 436.38,159.36 438.32,159.28"/><polygon points="444.40,157.46 445.08,159.28 447.02,159.36 445.50,160.57 446.02,162.44 444.40,161.37 442.78,162.44 443.30,160.57 441.78,159.36 443.72,159.28"/></g>
<g fill="#111"><polygon points="433.80,178.96 434.48,180.78 436.42,180.86 434.90,182.07 435.42,183.94 433.80,182.87 432.18,183.94 432.70,182.07 431.18,180.86 433.12,180.78"/><polygon points="439.20,178.96 439.88,180.78 441.82,180.86 440.30,182.07 440.82,183.94 439.20,182.87 437.58,183.94 438.10,182.07 436.58,180.86 438.52,180.78"/><polygon points="444.60,178.96 445.28,180.78 447.22,180.86 445.70,182.07 446.22,183.94 444.60,182.87 442.98,183.94 443.50,182.07 441.98,180.86 443.92,180.78"/></g>
<g fill="#111"><polygon points="465.50,105.86 466.18,107.68 468.12,107.76 466.60,108.97 467.12,110.84 465.50,109.77 463.88,110.84 464.40,108.97 462.88,107.76 464.82,107.68"/><polygon points="470.90,105.86 471.58,107.68 473.52,107.76 472.00,108.97 472.52,110.84 470.90,109.77 469.28,110.84 469.80,108.97 468.28,107.76 470.22,107.68"/></g>
<g fill="#111"><polygon points="462.80,134.66 463.48,136.48 465.42,136.56 463.90,137.77 464.42,139.64 462.80,138.57 461.18,139.64 461.70,137.77 460.18,136.56 462.12,136.48"/><polygon points="468.20,134.66 468.88,136.48 470.82,136.56 469.30,137.77 469.82,139.64 468.20,138.57 466.58,139.64 467.10,137.77 465.58,136.56 467.52,136.48"/><polygon points="473.60,134.66 474.28,136.48 476.22,136.56 474.70,137.77 475.22,139.64 473.60,138.57 471.98,139.64 472.50,137.77 470.98,136.56 472.92,136.48"/></g>
<g fill="#111"><polygon points="463.50,153.16 464.18,154.98 466.12,155.06 464.60,156.27 465.12,158.14 463.50,157.07 461.88,158.14 462.40,156.27 460.88,155.06 462.82,154.98"/><polygon points="468.90,153.16 469.58,154.98 471.52,155.06 470.00,156.27 470.52,158.14 468.90,157.07 467.28,158.14 467.80,156.27 466.28,155.06 468.22,154.98"/><polygon points="474.30,153.16 474.98,154.98 476.92,155.06 475.40,156.27 475.92,158.14 474.30,157.07 472.68,158.14 473.20,156.27 471.68,155.06 473.62,154.98"/></g>
<g fill="#111"><polygon points="471.50,172.76 472.18,174.58 474.12,174.66 472.60,175.87 473.12,177.74 471.50,176.67 469.88,177.74 470.40,175.87 468.88,174.66 470.82,174.58"/><polygon points="476.90,172.76 477.58,174.58 479.52,174.66 478.00,175.87 478.52,177.74 476.90,176.67 475.28,177.74 475.80,175.87 474.28,174.66 476.22,174.58"/><polygon points="482.30,172.76 482.98,174.58 484.92,174.66 483.40,175.87 483.92,177.74 482.30,176.67 480.68,177.74 481.20,175.87 479.68,174.66 481.62,174.58"/></g>
<g fill="#111"><polygon points="471.50,183.66 472.18,185.48 474.12,185.56 472.60,186.77 473.12,188.64 471.50,187.57 469.88,188.64 470.40,186.77 468.88,185.56 470.82,185.48"/><polygon points="476.90,183.66 477.58,185.48 479.52,185.56 478.00,186.77 478.52,188.64 476.90,187.57 475.28,188.64 475.80,186.77 474.28,185.56 476.22,185.48"/><polygon points="482.30,183.66 482.98,185.48 484.92,185.56 483.40,186.77 483.92,188.64 482.30,187.57 480.68,188.64 481.20,186.77 479.68,185.56 481.62,185.48"/></g>
<g fill="#111"><polygon points="472.40,191.76 473.08,193.58 475.02,193.66 473.50,194.87 474.02,196.74 472.40,195.67 470.78,196.74 471.30,194.87 469.78,193.66 471.72,193.58"/><polygon points="477.80,191.76 478.48,193.58 480.42,193.66 478.90,194.87 479.42,196.74 477.80,195.67 476.18,196.74 476.70,194.87 475.18,193.66 477.12,193.58"/><polygon points="483.20,191.76 483.88,193.58 485.82,193.66 484.30,194.87 484.82,196.74 483.20,195.67 481.58,196.74 482.10,194.87 480.58,193.66 482.52,193.58"/></g>
<g fill="#111"><polygon points="462.20,202.96 462.88,204.78 464.82,204.86 463.30,206.07 463.82,207.94 462.20,206.87 460.58,207.94 461.10,206.07 459.58,204.86 461.52,204.78"/><polygon points="467.60,202.96 468.28,204.78 470.22,204.86 468.70,206.07 469.22,207.94 467.60,206.87 465.98,207.94 466.50,206.07 464.98,204.86 466.92,204.78"/><polygon points="473.00,202.96 473.68,204.78 475.62,204.86 474.10,206.07 474.62,207.94 473.00,206.87 471.38,207.94 471.90,206.07 470.38,204.86 472.32,204.78"/></g>
<g fill="#111"><polygon points="517.10,122.66 517.78,124.48 519.72,124.56 518.20,125.77 518.72,127.64 517.10,126.57 515.48,127.64 516.00,125.77 514.48,124.56 516.42,124.48"/><polygon points="522.50,122.66 523.18,124.48 525.12,124.56 523.60,125.77 524.12,127.64 522.50,126.57 520.88,127.64 521.40,125.77 519.88,124.56 521.82,124.48"/></g>
<g fill="#111"><polygon points="514.40,131.46 515.08,133.28 517.02,133.36 515.50,134.57 516.02,136.44 514.40,135.37 512.78,136.44 513.30,134.57 511.78,133.36 513.72,133.28"/><polygon points="519.80,131.46 520.48,133.28 522.42,133.36 520.90,134.57 521.42,136.44 519.80,135.37 518.18,136.44 518.70,134.57 517.18,133.36 519.12,133.28"/><polygon points="525.20,131.46 525.88,133.28 527.82,133.36 526.30,134.57 526.82,136.44 525.20,135.37 523.58,136.44 524.10,134.57 522.58,133.36 524.52,133.28"/></g>
<g fill="#111"><polygon points="514.40,153.26 515.08,155.08 517.02,155.16 515.50,156.37 516.02,158.24 514.40,157.17 512.78,158.24 513.30,156.37 511.78,155.16 513.72,155.08"/><polygon points="519.80,153.26 520.48,155.08 522.42,155.16 520.90,156.37 521.42,158.24 519.80,157.17 518.18,158.24 518.70,156.37 517.18,155.16 519.12,155.08"/><polygon points="525.20,153.26 525.88,155.08 527.82,155.16 526.30,156.37 526.82,158.24 525.20,157.17 523.58,158.24 524.10,156.37 522.58,155.16 524.52,155.08"/></g>
<g fill="#111"><polygon points="526.70,170.66 527.38,172.48 529.32,172.56 527.80,173.77 528.32,175.64 526.70,174.57 525.08,175.64 525.60,173.77 524.08,172.56 526.02,172.48"/><polygon points="532.10,170.66 532.78,172.48 534.72,172.56 533.20,173.77 533.72,175.64 532.10,174.57 530.48,175.64 531.00,173.77 529.48,172.56 531.42,172.48"/><polygon points="537.50,170.66 538.18,172.48 540.12,172.56 538.60,173.77 539.12,175.64 537.50,174.57 535.88,175.64 536.40,173.77 534.88,172.56 536.82,172.48"/></g>
<g fill="#111"><polygon points="524.10,184.16 524.78,185.98 526.72,186.06 525.20,187.27 525.72,189.14 524.10,188.07 522.48,189.14 523.00,187.27 521.48,186.06 523.42,185.98"/><polygon points="529.50,184.16 530.18,185.98 532.12,186.06 530.60,187.27 531.12,189.14 529.50,188.07 527.88,189.14 528.40,187.27 526.88,186.06 528.82,185.98"/><polygon points="534.90,184.16 535.58,185.98 537.52,186.06 536.00,187.27 536.52,189.14 534.90,188.07 533.28,189.14 533.80,187.27 532.28,186.06 534.22,185.98"/></g>
<g fill="#111"><polygon points="514.40,201.76 515.08,203.58 517.02,203.66 515.50,204.87 516.02,206.74 514.40,205.67 512.78,206.74 513.30,204.87 511.78,203.66 513.72,203.58"/><polygon points="519.80,201.76 520.48,203.58 522.42,203.66 520.90,204.87 521.42,206.74 519.80,205.67 518.18,206.74 518.70,204.87 517.18,203.66 519.12,203.58"/><polygon points="525.20,201.76 525.88,203.58 527.82,203.66 526.30,204.87 526.82,206.74 525.20,205.67 523.58,206.74 524.10,204.87 522.58,203.66 524.52,203.58"/></g>
<g fill="#111"><polygon points="514.40,222.76 515.08,224.58 517.02,224.66 515.50,225.87 516.02,227.74 514.40,226.67 512.78,227.74 513.30,225.87 511.78,224.66 513.72,224.58"/><polygon points="519.80,222.76 520.48,224.58 522.42,224.66 520.90,225.87 521.42,227.74 519.80,226.67 518.18,227.74 518.70,225.87 517.18,224.66 519.12,224.58"/><polygon points="525.20,222.76 525.88,224.58 527.82,224.66 526.30,225.87 526.82,227.74 525.20,226.67 523.58,227.74 524.10,225.87 522.58,224.66 524.52,224.58"/></g>
<g fill="#111"><polygon points="566.40,139.26 567.08,141.08 569.02,141.16 567.50,142.37 568.02,144.24 566.40,143.17 564.78,144.24 565.30,142.37 563.78,141.16 565.72,141.08"/><polygon points="571.80,139.26 572.48,141.08 574.42,141.16 572.90,142.37 573.42,144.24 571.80,143.17 570.18,144.24 570.70,142.37 569.18,141.16 571.12,141.08"/><polygon points="577.20,139.26 577.88,141.08 579.82,141.16 578.30,142.37 578.82,144.24 577.20,143.17 575.58,144.24 576.10,142.37 574.58,141.16 576.52,141.08"/></g>
<g fill="#111"><polygon points="575.90,158.26 576.58,160.08 578.52,160.16 577.00,161.37 577.52,163.24 575.90,162.17 574.28,163.24 574.80,161.37 573.28,160.16 575.22,160.08"/><polygon points="581.30,158.26 581.98,160.08 583.92,160.16 582.40,161.37 582.92,163.24 581.30,162.17 579.68,163.24 580.20,161.37 578.68,160.16 580.62,160.08"/><polygon points="586.70,158.26 587.38,160.08 589.32,160.16 587.80,161.37 588.32,163.24 586.70,162.17 585.08,163.24 585.60,161.37 584.08,160.16 586.02,160.08"/></g>
<g fill="#111"><polygon points="566.10,171.56 566.78,173.38 568.72,173.46 567.20,174.67 567.72,176.54 566.10,175.47 564.48,176.54 565.00,174.67 563.48,173.46 565.42,173.38"/><polygon points="571.50,171.56 572.18,173.38 574.12,173.46 572.60,174.67 573.12,176.54 571.50,175.47 569.88,176.54 570.40,174.67 568.88,173.46 570.82,173.38"/><polygon points="576.90,171.56 577.58,173.38 579.52,173.46 578.00,174.67 578.52,176.54 576.90,175.47 575.28,176.54 575.80,174.67 574.28,173.46 576.22,173.38"/></g>
<g fill="#111"><polygon points="566.10,199.16 566.78,200.98 568.72,201.06 567.20,202.27 567.72,204.14 566.10,203.07 564.48,204.14 565.00,202.27 563.48,201.06 565.42,200.98"/><polygon points="571.50,199.16 572.18,200.98 574.12,201.06 572.60,202.27 573.12,204.14 571.50,203.07 569.88,204.14 570.40,202.27 568.88,201.06 570.82,200.98"/><polygon points="576.90,199.16 577.58,200.98 579.52,201.06 578.00,202.27 578.52,204.14 576.90,203.07 575.28,204.14 575.80,202.27 574.28,201.06 576.22,200.98"/></g>
<g fill="#111"><polygon points="565.40,231.66 566.08,233.48 568.02,233.56 566.50,234.77 567.02,236.64 565.40,235.57 563.78,236.64 564.30,234.77 562.78,233.56 564.72,233.48"/><polygon points="570.80,231.66 571.48,233.48 573.42,233.56 571.90,234.77 572.42,236.64 570.80,235.57 569.18,236.64 569.70,234.77 568.18,233.56 570.12,233.48"/><polygon points="576.20,231.66 576.88,233.48 578.82,233.56 577.30,234.77 577.82,236.64 576.20,235.57 574.58,236.64 575.10,234.77 573.58,233.56 575.52,233.48"/></g>
<g fill="#111"><polygon points="630.40,119.76 631.08,121.58 633.02,121.66 631.50,122.87 632.02,124.74 630.40,123.67 628.78,124.74 629.30,122.87 627.78,121.66 629.72,121.58"/><polygon points="635.80,119.76 636.48,121.58 638.42,121.66 636.90,122.87 637.42,124.74 635.80,123.67 634.18,124.74 634.70,122.87 633.18,121.66 635.12,121.58"/></g>
<g fill="#111"><polygon points="618.30,135.06 618.98,136.88 620.92,136.96 619.40,138.17 619.92,140.04 618.30,138.97 616.68,140.04 617.20,138.17 615.68,136.96 617.62,136.88"/><polygon points="623.70,135.06 624.38,136.88 626.32,136.96 624.80,138.17 625.32,140.04 623.70,138.97 622.08,140.04 622.60,138.17 621.08,136.96 623.02,136.88"/><polygon points="629.10,135.06 629.78,136.88 631.72,136.96 630.20,138.17 630.72,140.04 629.10,138.97 627.48,140.04 628.00,138.17 626.48,136.96 628.42,136.88"/></g>
<g fill="#111"><polygon points="618.30,173.76 618.98,175.58 620.92,175.66 619.40,176.87 619.92,178.74 618.30,177.67 616.68,178.74 617.20,176.87 615.68,175.66 617.62,175.58"/><polygon points="623.70,173.76 624.38,175.58 626.32,175.66 624.80,176.87 625.32,178.74 623.70,177.67 622.08,178.74 622.60,176.87 621.08,175.66 623.02,175.58"/><polygon points="629.10,173.76 629.78,175.58 631.72,175.66 630.20,176.87 630.72,178.74 629.10,177.67 627.48,178.74 628.00,176.87 626.48,175.66 628.42,175.58"/></g>
<g fill="#111"><polygon points="618.30,194.26 618.98,196.08 620.92,196.16 619.40,197.37 619.92,199.24 618.30,198.17 616.68,199.24 617.20,197.37 615.68,196.16 617.62,196.08"/><polygon points="623.70,194.26 624.38,196.08 626.32,196.16 624.80,197.37 625.32,199.24 623.70,198.17 622.08,199.24 622.60,197.37 621.08,196.16 623.02,196.08"/><polygon points="629.10,194.26 629.78,196.08 631.72,196.16 630.20,197.37 630.72,199.24 629.10,198.17 627.48,199.24 628.00,197.37 626.48,196.16 628.42,196.08"/></g>
<g fill="#111"><polygon points="618.30,217.16 618.98,218.98 620.92,219.06 619.40,220.27 619.92,222.14 618.30,221.07 616.68,222.14 617.20,220.27 615.68,219.06 617.62,218.98"/><polygon points="623.70,217.16 624.38,218.98 626.32,219.06 624.80,220.27 625.32,222.14 623.70,221.07 622.08,222.14 622.60,220.27 621.08,219.06 623.02,218.98"/><polygon points="629.10,217.16 629.78,218.98 631.72,219.06 630.20,220.27 630.72,222.14 629.10,221.07 627.48,222.14 628.00,220.27 626.48,219.06 628.42,218.98"/></g>
<g fill="#111"><polygon points="670.10,114.26 670.78,116.08 672.72,116.16 671.20,117.37 671.72,119.24 670.10,118.17 668.48,119.24 669.00,117.37 667.48,116.16 669.42,116.08"/><polygon points="675.50,114.26 676.18,116.08 678.12,116.16 676.60,117.37 677.12,119.24 675.50,118.17 673.88,119.24 674.40,117.37 672.88,116.16 674.82,116.08"/><polygon points="680.90,114.26 681.58,116.08 683.52,116.16 682.00,117.37 682.52,119.24 680.90,118.17 679.28,119.24 679.80,117.37 678.28,116.16 680.22,116.08"/></g>
<g fill="#111"><polygon points="670.10,137.86 670.78,139.68 672.72,139.76 671.20,140.97 671.72,142.84 670.10,141.77 668.48,142.84 669.00,140.97 667.48,139.76 669.42,139.68"/><polygon points="675.50,137.86 676.18,139.68 678.12,139.76 676.60,140.97 677.12,142.84 675.50,141.77 673.88,142.84 674.40,140.97 672.88,139.76 674.82,139.68"/><polygon points="680.90,137.86 681.58,139.68 683.52,139.76 682.00,140.97 682.52,142.84 680.90,141.77 679.28,142.84 679.80,140.97 678.28,139.76 680.22,139.68"/></g>
<g fill="#111"><polygon points="670.10,175.46 670.78,177.28 672.72,177.36 671.20,178.57 671.72,180.44 670.10,179.37 668.48,180.44 669.00,178.57 667.48,177.36 669.42,177.28"/><polygon points="675.50,175.46 676.18,177.28 678.12,177.36 676.60,178.57 677.12,180.44 675.50,179.37 673.88,180.44 674.40,178.57 672.88,177.36 674.82,177.28"/><polygon points="680.90,175.46 681.58,177.28 683.52,177.36 682.00,178.57 682.52,180.44 680.90,179.37 679.28,180.44 679.80,178.57 678.28,177.36 680.22,177.28"/></g>
<g fill="#111"><polygon points="671.10,196.96 671.78,198.78 673.72,198.86 672.20,200.07 672.72,201.94 671.10,200.87 669.48,201.94 670.00,200.07 668.48,198.86 670.42,198.78"/><polygon points="676.50,196.96 677.18,198.78 679.12,198.86 677.60,200.07 678.12,201.94 676.50,200.87 674.88,201.94 675.40,200.07 673.88,198.86 675.82,198.78"/><polygon points="681.90,196.96 682.58,198.78 684.52,198.86 683.00,200.07 683.52,201.94 681.90,200.87 680.28,201.94 680.80,200.07 679.28,198.86 681.22,198.78"/></g>
<g fill="#111"><polygon points="670.10,211.86 670.78,213.68 672.72,213.76 671.20,214.97 671.72,216.84 670.10,215.77 668.48,216.84 669.00,214.97 667.48,213.76 669.42,213.68"/><polygon points="675.50,211.86 676.18,213.68 678.12,213.76 676.60,214.97 677.12,216.84 675.50,215.77 673.88,216.84 674.40,214.97 672.88,213.76 674.82,213.68"/><polygon points="680.90,211.86 681.58,213.68 683.52,213.76 682.00,214.97 682.52,216.84 680.90,215.77 679.28,216.84 679.80,214.97 678.28,213.76 680.22,213.68"/></g>
<line x1="459.10" y1="26.40" x2="469.90" y2="26.40" stroke="#000" stroke-width="1.1"/>
<circle cx="464.50" cy="26.40" r="3.8" fill="none" stroke="#000" stroke-width="1.1"/>
<text x="476.05" y="30.70" font-size="12.4" textLength="45.01" lengthAdjust="spacingAndGlyphs" >vehicle</text>
<line x1="459.10" y1="38.90" x2="469.90" y2="38.90" stroke="#ffa0a0" stroke-width="1.1"/>
<polygon points="464.50,34.46 469.12,43.91 459.88,43.91" fill="#ffa0a0"/>
<text x="475.24" y="42.60" font-size="12.4" textLength="66.67" lengthAdjust="spacingAndGlyphs" >100 mg/kg</text>
<line x1="459.10" y1="51.10" x2="469.90" y2="51.10" stroke="#ff8080" stroke-width="1.1"/>
<rect x="460.80" y="47.40" width="7.40" height="7.40" fill="#ff8080"/>
<text x="475.63" y="54.80" font-size="12.4" textLength="66.28" lengthAdjust="spacingAndGlyphs" >200 mg/kg</text>
<line x1="459.10" y1="63.10" x2="469.90" y2="63.10" stroke="#ff4040" stroke-width="1.1"/>
<circle cx="464.50" cy="63.10" r="3.70" fill="#ff4040"/>
<text x="475.90" y="67.20" font-size="12.4" textLength="66.01" lengthAdjust="spacingAndGlyphs" >400 mg/kg</text>
<line x1="557.20" y1="27.00" x2="568.00" y2="27.00" stroke="#ff0000" stroke-width="1.1"/>
<polygon points="562.60,30.92 566.39,23.52 558.81,23.52" fill="#ff0000"/>
<text x="573.80" y="31.60" font-size="12.5" textLength="66.61" lengthAdjust="spacingAndGlyphs" >600 mg/kg</text>
<line x1="557.20" y1="39.30" x2="568.00" y2="39.30" stroke="#a00000" stroke-width="1.1"/>
<polygon points="558.72,39.30 560.66,35.97 564.54,35.97 566.49,39.30 564.54,42.63 560.66,42.63" fill="#a00000"/>
<text x="573.45" y="43.90" font-size="12.5" textLength="73.76" lengthAdjust="spacingAndGlyphs" >1200 mg/kg</text>
<line x1="557.20" y1="53.00" x2="568.00" y2="53.00" stroke="#5a0000" stroke-width="1.1"/>
<polygon points="562.60,49.30 566.30,53.00 562.60,56.70 558.90,53.00" fill="#5a0000"/>
<text x="573.83" y="57.10" font-size="12.5" textLength="73.37" lengthAdjust="spacingAndGlyphs" >2000 mg/kg</text>
<line x1="557.20" y1="65.50" x2="568.00" y2="65.50" stroke="#000" stroke-width="1.1"/>
<polygon points="562.60,61.06 567.22,70.51 557.98,70.51" fill="#000"/>
<text x="573.99" y="69.60" font-size="12.5" textLength="73.21" lengthAdjust="spacingAndGlyphs" >3000 mg/kg</text>
<line x1="55.7" y1="340.7" x2="55.7" y2="529.9" stroke="#000" stroke-width="1.3"/>
<line x1="55.050000000000004" y1="529.3" x2="337.3" y2="529.3" stroke="#000" stroke-width="1.3"/>
<line x1="52.5" y1="341.30" x2="55.7" y2="341.30" stroke="#000" stroke-width="1.1"/>
<text x="31.33" y="345.82" font-size="11.4" textLength="20.16" lengthAdjust="spacingAndGlyphs" >100</text>
<line x1="52.5" y1="375.60" x2="55.7" y2="375.60" stroke="#000" stroke-width="1.1"/>
<text x="38.05" y="380.12" font-size="11.4" textLength="13.44" lengthAdjust="spacingAndGlyphs" >80</text>
<line x1="52.5" y1="409.90" x2="55.7" y2="409.90" stroke="#000" stroke-width="1.1"/>
<text x="38.05" y="414.42" font-size="11.4" textLength="13.44" lengthAdjust="spacingAndGlyphs" >60</text>
<line x1="52.5" y1="444.20" x2="55.7" y2="444.20" stroke="#000" stroke-width="1.1"/>
<text x="38.05" y="448.72" font-size="11.4" textLength="13.44" lengthAdjust="spacingAndGlyphs" >40</text>
<line x1="52.5" y1="478.50" x2="55.7" y2="478.50" stroke="#000" stroke-width="1.1"/>
<text x="38.05" y="483.02" font-size="11.4" textLength="13.44" lengthAdjust="spacingAndGlyphs" >20</text>
<line x1="52.5" y1="512.80" x2="55.7" y2="512.80" stroke="#000" stroke-width="1.1"/>
<text x="44.78" y="517.32" font-size="11.4" textLength="6.72" lengthAdjust="spacingAndGlyphs" >0</text>
<line x1="99.80" y1="529.3" x2="99.80" y2="532.6" stroke="#000" stroke-width="1.1"/>
<text transform="translate(105.20,539.9) rotate(-45)" font-size="12" text-anchor="end">100</text>
<line x1="144.35" y1="529.3" x2="144.35" y2="532.6" stroke="#000" stroke-width="1.1"/>
<text transform="translate(149.75,539.9) rotate(-45)" font-size="12" text-anchor="end">200</text>
<line x1="188.90" y1="529.3" x2="188.90" y2="532.6" stroke="#000" stroke-width="1.1"/>
<text transform="translate(194.30,539.9) rotate(-45)" font-size="12" text-anchor="end">400</text>
<line x1="214.97" y1="529.3" x2="214.97" y2="532.6" stroke="#000" stroke-width="1.1"/>
<text transform="translate(220.37,539.9) rotate(-45)" font-size="12" text-anchor="end">600</text>
<line x1="259.52" y1="529.3" x2="259.52" y2="532.6" stroke="#000" stroke-width="1.1"/>
<text transform="translate(264.92,539.9) rotate(-45)" font-size="12" text-anchor="end">1200</text>
<line x1="292.35" y1="529.3" x2="292.35" y2="532.6" stroke="#000" stroke-width="1.1"/>
<text transform="translate(297.75,539.9) rotate(-45)" font-size="12" text-anchor="end">2000</text>
<line x1="318.41" y1="529.3" x2="318.41" y2="532.6" stroke="#000" stroke-width="1.1"/>
<text transform="translate(323.81,539.9) rotate(-45)" font-size="12" text-anchor="end">3000</text>
<text x="163.63" y="571.60" font-size="13.3" textLength="48.33" lengthAdjust="spacingAndGlyphs" >(mg/kg)</text>
<text transform="translate(10.10,468.48) rotate(-90)" x="0" y="0" font-size="13.4" textLength="74.03" lengthAdjust="spacingAndGlyphs" >Breath Rate</text>
<text transform="translate(25.30,492.30) rotate(-90)" x="0" y="0" font-size="13.4" textLength="118.77" lengthAdjust="spacingAndGlyphs" >E max (% of basal)</text>
<text x="19.0" y="331.4" font-size="22.5">c</text>
<polyline points="99.80,379.72 144.35,381.26 188.90,377.66 214.97,378.34 259.52,386.92 292.35,391.72 318.41,407.84" fill="none" stroke="#1a1aff" stroke-width="1.3"/>
<polyline points="99.80,376.29 144.35,404.93 188.90,404.93 214.97,432.02 259.52,443.34 292.35,455.86 318.41,477.99" fill="none" stroke="#ff1a1a" stroke-width="1.3"/>
<line x1="144.35" y1="381.26" x2="144.35" y2="387.43" stroke="#1a1aff" stroke-width="1.2"/>
<line x1="140.15" y1="387.43" x2="148.55" y2="387.43" stroke="#1a1aff" stroke-width="1.2"/>
<line x1="188.90" y1="377.66" x2="188.90" y2="383.49" stroke="#1a1aff" stroke-width="1.2"/>
<line x1="184.70" y1="383.49" x2="193.10" y2="383.49" stroke="#1a1aff" stroke-width="1.2"/>
<line x1="144.35" y1="404.93" x2="144.35" y2="411.61" stroke="#ff1a1a" stroke-width="1.2"/>
<line x1="140.15" y1="411.61" x2="148.55" y2="411.61" stroke="#ff1a1a" stroke-width="1.2"/>
<line x1="188.90" y1="404.93" x2="188.90" y2="409.90" stroke="#ff1a1a" stroke-width="1.2"/>
<line x1="184.70" y1="409.90" x2="193.10" y2="409.90" stroke="#ff1a1a" stroke-width="1.2"/>
<line x1="214.97" y1="432.02" x2="214.97" y2="437.34" stroke="#ff1a1a" stroke-width="1.2"/>
<line x1="210.77" y1="437.34" x2="219.17" y2="437.34" stroke="#ff1a1a" stroke-width="1.2"/>
<line x1="318.41" y1="477.99" x2="318.41" y2="491.71" stroke="#ff1a1a" stroke-width="1.2"/>
<line x1="314.21" y1="491.71" x2="322.61" y2="491.71" stroke="#ff1a1a" stroke-width="1.2"/>
<line x1="318.41" y1="407.84" x2="318.41" y2="411.61" stroke="#8080ff" stroke-width="1.2"/>
<line x1="314.21" y1="411.61" x2="322.61" y2="411.61" stroke="#8080ff" stroke-width="1.2"/>
<polygon points="99.80,375.38 104.31,384.61 95.29,384.61" fill="#1a1aff"/>
<polygon points="144.35,376.92 148.86,386.15 139.84,386.15" fill="#1a1aff"/>
<polygon points="188.90,373.32 193.41,382.55 184.39,382.55" fill="#1a1aff"/>
<polygon points="214.97,374.01 219.48,383.23 210.46,383.23" fill="#1a1aff"/>
<polygon points="259.52,382.58 264.03,391.81 255.01,391.81" fill="#1a1aff"/>
<polygon points="292.35,387.39 296.86,396.61 287.84,396.61" fill="#1a1aff"/>
<polygon points="318.41,403.51 322.92,412.73 313.90,412.73" fill="#1a1aff"/>
<circle cx="99.80" cy="376.29" r="4.3" fill="#ff0000"/>
<circle cx="144.35" cy="404.93" r="4.3" fill="#ff0000"/>
<circle cx="188.90" cy="404.93" r="4.3" fill="#ff0000"/>
<circle cx="214.97" cy="432.02" r="4.3" fill="#ff0000"/>
<circle cx="259.52" cy="443.34" r="4.3" fill="#ff0000"/>
<circle cx="292.35" cy="455.86" r="4.3" fill="#ff0000"/>
<circle cx="318.41" cy="477.99" r="4.3" fill="#ff0000"/>
<text x="144.20" y="420.10" font-size="8.6" text-anchor="middle" font-style="italic" letter-spacing="-0.3" stroke="#000" stroke-width="0.35">#</text>
<text x="189.10" y="420.10" font-size="8.6" text-anchor="middle" font-style="italic" letter-spacing="-0.3" stroke="#000" stroke-width="0.35">##</text>
<text x="214.70" y="446.70" font-size="8.6" text-anchor="middle" font-style="italic" letter-spacing="-0.3" stroke="#000" stroke-width="0.35">###</text>
<text x="259.50" y="455.70" font-size="8.6" text-anchor="middle" font-style="italic" letter-spacing="-0.3" stroke="#000" stroke-width="0.35">###</text>
<text x="290.90" y="469.20" font-size="8.6" text-anchor="middle" font-style="italic" letter-spacing="-0.3" stroke="#000" stroke-width="0.35">###</text>
<text x="318.30" y="501.20" font-size="8.6" text-anchor="middle" font-style="italic" letter-spacing="-0.3" stroke="#000" stroke-width="0.35">###</text>
<polygon points="72.60,447.74 77.66,458.09 67.54,458.09" fill="#1a1aff"/>
<circle cx="72.6" cy="466.6" r="4.4" fill="#ff0000"/>
<text x="82.93" y="457.40" font-size="14.0" textLength="32.27" lengthAdjust="spacingAndGlyphs" >NMP</text>
<text x="83.31" y="471.10" font-size="14.0" textLength="32.05" lengthAdjust="spacingAndGlyphs" >GHB</text>
</svg>
</body></html>
